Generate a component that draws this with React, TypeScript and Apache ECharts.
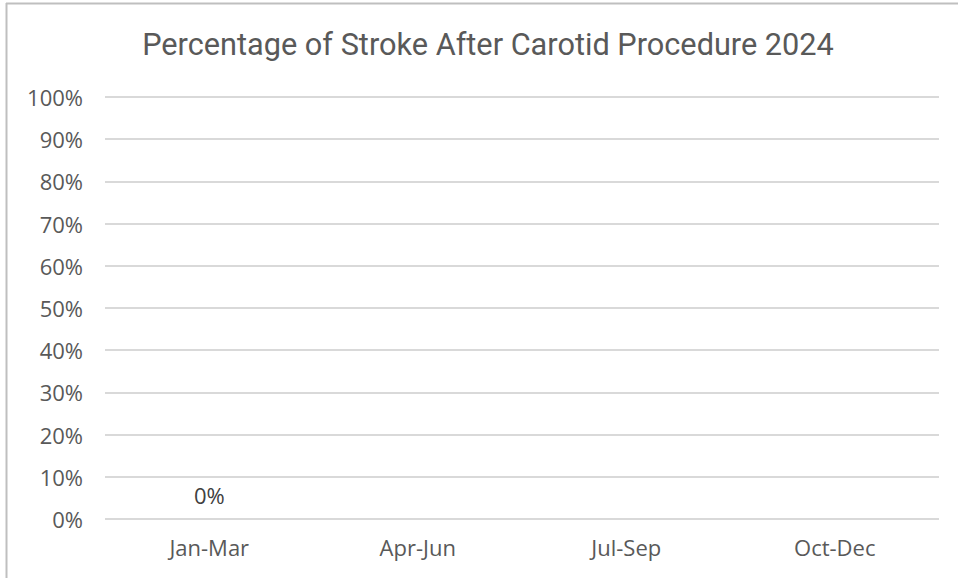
import React, { useEffect, useRef } from "react";
import * as echarts from "echarts";

const title = "Percentage of Stroke After Carotid Procedure 2024";
const categories = ["Jan-Mar", "Apr-Jun", "Jul-Sep", "Oct-Dec"];
const values: (number | null)[] = [0, null, null, null];
const yTicks = { min: 0, max: 100, interval: 10 };

const labelFont = "'Open Sans', sans-serif";

export default function App() {
  const ref = useRef<HTMLDivElement>(null);
  useEffect(() => {
    if (!ref.current) return;
    const chart = echarts.init(ref.current, null, { renderer: "svg" });
    chart.setOption({
      animation: false,
      backgroundColor: "#ffffff",
      title: {
        text: title,
        left: 483,
        textAlign: "center",
        top: 24,
        textStyle: {
          fontFamily: "Roboto, sans-serif",
          fontSize: 30.7,
          fontWeight: "normal",
          color: "#595959",
        },
      },
      grid: { left: 105, right: 19, top: 97, bottom: 59, containLabel: false },
      xAxis: {
        type: "category",
        data: categories,
        axisLine: { show: false },
        axisTick: { show: false },
        axisLabel: {
          color: "#595959",
          fontSize: 22,
          fontFamily: labelFont,
          margin: 17,
        },
      },
      yAxis: {
        type: "value",
        min: yTicks.min,
        max: yTicks.max,
        interval: yTicks.interval,
        axisLine: { show: false },
        axisTick: { show: false },
        axisLabel: {
          formatter: "{value}%",
          color: "#595959",
          fontSize: 22,
          fontFamily: labelFont,
          margin: 22,
        },
        splitLine: { lineStyle: { color: "#d9d9d9", width: 2 } },
      },
      series: [
        {
          type: "bar",
          data: values,
          barWidth: "50%",
          itemStyle: { color: "#4472c4" },
          label: {
            show: true,
            position: "top",
            distance: 13,
            formatter: (p: any) => (p.value == null ? "" : `${p.value}%`),
            color: "#404040",
            fontSize: 22,
            fontFamily: labelFont,
          },
        },
      ],
      graphic: [
        {
          type: "line",
          shape: { x1: 6, y1: 3.5, x2: 958, y2: 3.5 },
          style: { stroke: "#bfbfbf", lineWidth: 2 },
        },
        {
          type: "line",
          shape: { x1: 6.5, y1: 3, x2: 6.5, y2: 578 },
          style: { stroke: "#bfbfbf", lineWidth: 2 },
        },
      ],
    });
    return () => chart.dispose();
  }, []);
  return (
    <div
      ref={ref}
      style={{ position: "fixed", left: 0, top: 0, width: 958, height: 578 }}
    />
  );
}
